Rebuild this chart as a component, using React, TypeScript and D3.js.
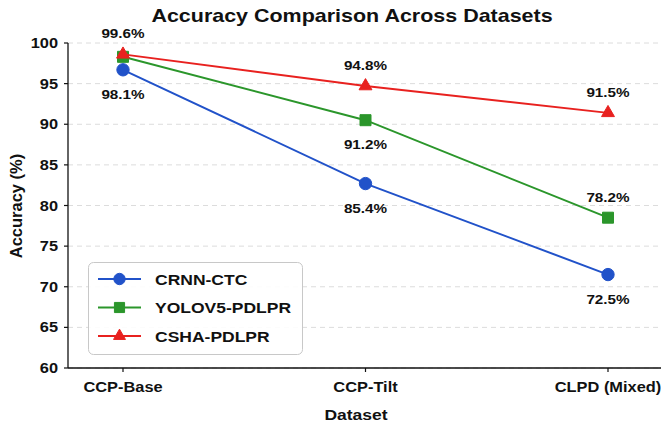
import React from 'react';
import * as d3 from 'd3';

const datasets = ['CCP-Base', 'CCP-Tilt', 'CLPD (Mixed)'];
const crnnValues = [96.7, 82.7, 71.5];
const yoloValues = [98.3, 90.5, 78.5];
const cshaValues = [98.6, 94.7, 91.4];
const crnnLabels = ['98.1%', '85.4%', '72.5%'];
const yoloLabels = ['', '91.2%', '78.2%'];
const cshaLabels = ['99.6%', '94.8%', '91.5%'];
const yTicks = [60, 65, 70, 75, 80, 85, 90, 95, 100];

const W = 661;
const H = 425;
const FONT = "'Liberation Sans', Arial, Helvetica, sans-serif";
const SX = 1.13; // the reference text is a bit wide

const series = [
  { name: 'CRNN-CTC', values: crnnValues, labels: crnnLabels, color: '#2152c9', symbol: d3.symbolCircle, size: 120, side: ['below', 'below', 'below'] },
  { name: 'YOLOV5-PDLPR', values: yoloValues, labels: yoloLabels, color: '#2b962b', symbol: d3.symbolSquare, size: 121, side: ['below', 'below', 'above'] },
  { name: 'CSHA-PDLPR', values: cshaValues, labels: cshaLabels, color: '#e8211f', symbol: d3.symbolTriangle, size: 72, side: ['above', 'above', 'above'] },
];

const T = ({ x, y, size, anchor = 'middle', sx = SX, children }: any) => (
  <text
    transform={`translate(${x},${y}) scale(${sx},1)`}
    fontSize={size}
    fontWeight="bold"
    fontFamily={FONT}
    textAnchor={anchor}
    fill="#111"
  >
    {children}
  </text>
);

export default function App() {
  const left = 68;
  const right = W;
  const top = 43;
  const bottom = 368;

  const x = d3.scalePoint<string>().domain(datasets).range([123, 608]);
  const y = d3.scaleLinear().domain([60, 100]).range([bottom, top]);

  const line = d3
    .line<number>()
    .x((_, i) => x(datasets[i]) as number)
    .y((d) => y(d));

  return (
    <svg width={W} height={H} style={{ position: 'absolute', left: 0, top: 0 }}>
      <rect width={W} height={H} fill="#fff" />

      {/* grid */}
      {yTicks.map((t) => (
        <line key={'g' + t} x1={left} x2={right} y1={y(t)} y2={y(t)} stroke="#dcdcdc" strokeDasharray="5,4" strokeWidth={1} />
      ))}

      {/* axes */}
      <line x1={left} x2={left} y1={top} y2={bottom} stroke="#111" strokeWidth={1.3} />
      <line x1={left} x2={right} y1={bottom} y2={bottom} stroke="#111" strokeWidth={1.3} />
      {yTicks.map((t) => (
        <g key={'y' + t}>
          <line x1={left - 4} x2={left} y1={y(t)} y2={y(t)} stroke="#111" strokeWidth={1.2} />
          <T x={left - 10} y={y(t) + 5} size={14.5} anchor="end">{t}</T>
        </g>
      ))}
      {datasets.map((d) => (
        <g key={'x' + d}>
          <line x1={x(d)} x2={x(d)} y1={bottom} y2={bottom + 4} stroke="#111" strokeWidth={1.2} />
          <T x={x(d)} y={392} size={14.5}>{d}</T>
        </g>
      ))}

      {/* series */}
      {series.map((s) => (
        <g key={s.name}>
          <path d={line(s.values) as string} fill="none" stroke={s.color} strokeWidth={2} />
          {s.values.map((v, i) => (
            <path
              key={i}
              d={d3.symbol().type(s.symbol).size(s.size)() as string}
              transform={`translate(${x(datasets[i])},${y(v)})`}
              fill={s.color}
              stroke={s.color}
              strokeWidth={1}
            />
          ))}
        </g>
      ))}

      {/* value annotations */}
      {series.map((s) =>
        s.labels.map((lab, i) =>
          lab ? (
            <T
              key={s.name + i}
              x={x(datasets[i])}
              y={y(s.values[i]) + (s.side[i] === 'above' ? -16 : 29)}
              size={13.5}
            >
              {lab}
            </T>
          ) : null
        )
      )}

      {/* legend */}
      <rect x={88.5} y={262.5} width={214} height={92} rx={5} fill="#fff" fillOpacity={0.9} stroke="#c8c8c8" strokeWidth={1} />
      {series.map((s, i) => {
        const ly = 279 + i * 28.5;
        return (
          <g key={'l' + s.name}>
            <line x1={98} x2={141} y1={ly} y2={ly} stroke={s.color} strokeWidth={2} />
            <path
              d={d3.symbol().type(s.symbol).size(s.size * 0.85)() as string}
              transform={`translate(119.5,${ly})`}
              fill={s.color}
              stroke={s.color}
            />
            <T x={155} y={ly + 5.5} size={15.5} anchor="start">{s.name}</T>
          </g>
        );
      })}

      {/* titles */}
      <T x={352} y={22} size={19}>Accuracy Comparison Across Datasets</T>
      <T x={356} y={420} size={15.5}>Dataset</T>
      <text
        transform={`translate(22,206) rotate(-90)`}
        fontSize={16.5}
        fontWeight="bold"
        fontFamily={FONT}
        textAnchor="middle"
        fill="#111"
      >
        Accuracy (%)
      </text>
    </svg>
  );
}
